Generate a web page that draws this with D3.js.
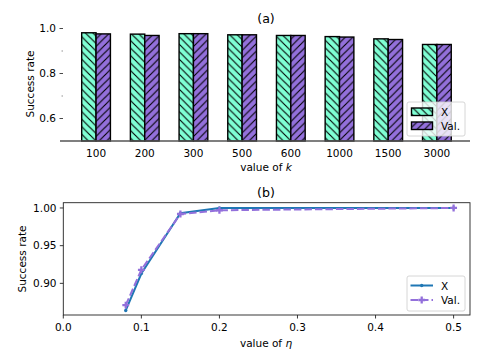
<!DOCTYPE html>
<head>
  <script src="https://cdnjs.cloudflare.com/ajax/libs/d3/7.8.5/d3.min.js"></script>
  <style>
    body { margin: 0; background: #fff; }
    text { font-family: "DejaVu Sans", sans-serif; font-size: 10.5px; fill: #000; }
    text.title { font-size: 12.6px; }
  </style>
</head>
<body>
  <div id="chart"></div>
  <script>
    // (a) success rate vs k
    const kLabels = ['100', '200', '300', '500', '600', '1000', '1500', '3000'];
    const barX   = [0.981, 0.975, 0.977, 0.972, 0.969, 0.964, 0.954, 0.929];
    const barVal = [0.976, 0.969, 0.977, 0.972, 0.969, 0.962, 0.951, 0.929];
    const barTicks = [0.6, 0.8, 1.0];
    const barMinor = [0.7, 0.9];

    // (b) success rate vs eta
    const etas    = [0.08, 0.1, 0.15, 0.2, 0.5];
    const lineX   = [0.864, 0.913, 0.993, 1.0, 1.0];
    const lineVal = [0.871, 0.918, 0.992, 0.997, 1.0];
    const etaTicks = [0.0, 0.1, 0.2, 0.3, 0.4, 0.5];
    const rateTicks = [0.90, 0.95, 1.00];

    const GREEN = '#7fffd4';
    const PURPLE = '#9370db';
    const BLUE = '#1f77b4';

    const svg = d3.select('#chart').append('svg')
      .attr('width', 484)
      .attr('height', 363);

    const defs = svg.append('defs');
    function hatch(id, fill, back) {
      const s = 7.5;
      const p = defs.append('pattern').attr('id', id)
        .attr('patternUnits', 'userSpaceOnUse')
        .attr('width', s).attr('height', s);
      p.append('rect').attr('width', s).attr('height', s).attr('fill', fill);
      const d = back
        ? `M0,0L${s},${s}M${-s / 2},${s / 2}L${s / 2},${s * 1.5}M${s / 2},${-s / 2}L${s * 1.5},${s / 2}`
        : `M0,${s}L${s},0M${-s / 2},${s / 2}L${s / 2},${-s / 2}M${s / 2},${s * 1.5}L${s * 1.5},${s / 2}`;
      p.append('path').attr('d', d).attr('stroke', '#000').attr('stroke-width', 1.1);
    }
    hatch('hx', GREEN, true);
    hatch('hv', PURPLE, false);

    // ---- top chart ----
    const xa = d3.scaleLinear().domain([-0.72, 7.68]).range([61, 470]);
    const ya = d3.scaleLinear().domain([0.5, 1.0]).range([141, 28.5]);
    const bw = 0.295;

    const gA = svg.append('g');
    const groups = gA.selectAll('g.grp').data(kLabels).join('g').attr('class', 'grp');
    groups.append('rect')
      .attr('x', (d, i) => xa(i - bw))
      .attr('y', (d, i) => ya(barX[i]))
      .attr('width', xa(bw) - xa(0))
      .attr('height', (d, i) => ya(0.5) - ya(barX[i]))
      .attr('fill', 'url(#hx)').attr('stroke', '#000').attr('stroke-width', 1.4);
    groups.append('rect')
      .attr('x', (d, i) => xa(i))
      .attr('y', (d, i) => ya(barVal[i]))
      .attr('width', xa(bw) - xa(0))
      .attr('height', (d, i) => ya(0.5) - ya(barVal[i]))
      .attr('fill', 'url(#hv)').attr('stroke', '#000').attr('stroke-width', 1.4);

    gA.append('line')
      .attr('x1', 60).attr('x2', 470)
      .attr('y1', ya(0.5)).attr('y2', ya(0.5))
      .attr('stroke', '#555').attr('stroke-width', 1.3);

    gA.selectAll('text.xt').data(kLabels).join('text')
      .attr('x', (d, i) => xa(i)).attr('y', 156.5)
      .attr('text-anchor', 'middle').text(d => d);

    gA.selectAll('line.yt').data(barTicks).join('line')
      .attr('x1', 59.5).attr('x2', 63).attr('y1', d => ya(d)).attr('y2', d => ya(d))
      .attr('stroke', '#333').attr('stroke-width', 0.9);
    gA.selectAll('line.ym').data(barMinor).join('line')
      .attr('x1', 61.5).attr('x2', 63).attr('y1', d => ya(d)).attr('y2', d => ya(d))
      .attr('stroke', '#666').attr('stroke-width', 0.7);
    gA.selectAll('text.yt').data(barTicks).join('text')
      .attr('x', 56).attr('y', d => ya(d) + 3.8)
      .attr('text-anchor', 'end').text(d => d.toFixed(1));

    gA.append('text').attr('class', 'title').attr('x', 266).attr('y', 23)
      .attr('text-anchor', 'middle').text('(a)');
    const xl = gA.append('text').attr('x', 266).attr('y', 170.5).attr('text-anchor', 'middle');
    xl.append('tspan').text('value of ');
    xl.append('tspan').attr('font-style', 'italic').text('k');
    gA.append('text')
      .attr('transform', 'translate(33.5,84) rotate(-90)')
      .attr('text-anchor', 'middle').text('Success rate');

    const lg = gA.append('g').attr('transform', 'translate(407,102)');
    lg.append('rect').attr('width', 58).attr('height', 34).attr('rx', 2)
      .attr('fill', '#fff').attr('fill-opacity', 0.8).attr('stroke', '#ccc').attr('stroke-width', 0.8);
    [['X', 'url(#hx)'], ['Val.', 'url(#hv)']].forEach(([name, fill], i) => {
      lg.append('rect').attr('x', 4.5).attr('y', 6 + i * 14).attr('width', 21).attr('height', 7.5)
        .attr('fill', fill).attr('stroke', '#000').attr('stroke-width', 1.4);
      lg.append('text').attr('x', 34).attr('y', 14 + i * 14).text(name);
    });

    // ---- bottom chart ----
    const xb = d3.scaleLinear().domain([0, 0.521]).range([63.3, 470]);
    const yb = d3.scaleLinear().domain([0.858, 1.007]).range([315, 202.7]);

    const gB = svg.append('g');
    gB.append('rect')
      .attr('x', xb(0)).attr('y', yb(1.007))
      .attr('width', xb(0.521) - xb(0)).attr('height', yb(0.858) - yb(1.007))
      .attr('fill', 'none').attr('stroke', '#222').attr('stroke-width', 0.9);

    gB.selectAll('line.xt').data(etaTicks).join('line')
      .attr('x1', d => xb(d)).attr('x2', d => xb(d)).attr('y1', 315).attr('y2', 318.5)
      .attr('stroke', '#222').attr('stroke-width', 0.9);
    gB.selectAll('text.xt').data(etaTicks).join('text')
      .attr('x', d => xb(d)).attr('y', 330.5)
      .attr('text-anchor', 'middle').text(d => d.toFixed(1));
    gB.selectAll('line.yt').data(rateTicks).join('line')
      .attr('x1', 59.8).attr('x2', 63.3).attr('y1', d => yb(d)).attr('y2', d => yb(d))
      .attr('stroke', '#222').attr('stroke-width', 0.9);
    gB.selectAll('text.yt').data(rateTicks).join('text')
      .attr('x', 56.5).attr('y', d => yb(d) + 3.8)
      .attr('text-anchor', 'end').text(d => d.toFixed(2));

    gB.append('text').attr('class', 'title').attr('x', 266).attr('y', 197)
      .attr('text-anchor', 'middle').text('(b)');
    const xl2 = gB.append('text').attr('x', 266).attr('y', 346.5).attr('text-anchor', 'middle');
    xl2.append('tspan').text('value of ');
    xl2.append('tspan').attr('font-style', 'italic').text('η');
    gB.append('text')
      .attr('transform', 'translate(25.5,259) rotate(-90)')
      .attr('text-anchor', 'middle').text('Success rate');

    const line = d3.line().x(d => xb(d[0])).y(d => yb(d[1]));
    const ptsX = etas.map((e, i) => [e, lineX[i]]);
    const ptsV = etas.map((e, i) => [e, lineVal[i]]);
    const cross = d3.symbol().type(d3.symbolCross).size(26);

    gB.append('path').attr('d', line(ptsX))
      .attr('fill', 'none').attr('stroke', BLUE).attr('stroke-width', 2);
    gB.selectAll('circle.mx').data(ptsX).join('circle')
      .attr('cx', d => xb(d[0])).attr('cy', d => yb(d[1])).attr('r', 1.7).attr('fill', BLUE);

    gB.append('path').attr('d', line(ptsV))
      .attr('fill', 'none').attr('stroke', PURPLE).attr('stroke-width', 2)
      .attr('stroke-dasharray', '7.5,3');
    gB.selectAll('path.mv').data(ptsV).join('path')
      .attr('transform', d => `translate(${xb(d[0])},${yb(d[1])})`)
      .attr('d', cross).attr('fill', PURPLE);

    const lg2 = gB.append('g').attr('transform', 'translate(407,276)');
    lg2.append('rect').attr('width', 58).attr('height', 35).attr('rx', 2)
      .attr('fill', '#fff').attr('fill-opacity', 0.8).attr('stroke', '#ccc').attr('stroke-width', 0.8);
    lg2.append('line').attr('x1', 3.5).attr('x2', 26).attr('y1', 9.5).attr('y2', 9.5)
      .attr('stroke', BLUE).attr('stroke-width', 2);
    lg2.append('circle').attr('cx', 14.7).attr('cy', 9.5).attr('r', 1.7).attr('fill', BLUE);
    lg2.append('line').attr('x1', 3.5).attr('x2', 26).attr('y1', 24).attr('y2', 24)
      .attr('stroke', PURPLE).attr('stroke-width', 2).attr('stroke-dasharray', '7.5,3');
    lg2.append('path').attr('transform', 'translate(14.7,24)').attr('d', cross).attr('fill', PURPLE);
    lg2.append('text').attr('x', 34).attr('y', 13.5).text('X');
    lg2.append('text').attr('x', 34).attr('y', 28).text('Val.');
  </script>
</body>
